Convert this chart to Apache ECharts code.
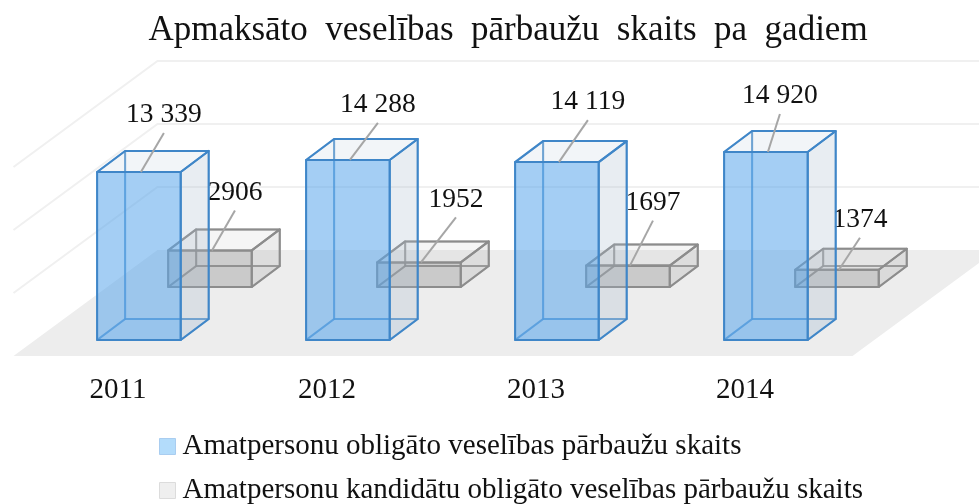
<!DOCTYPE html>
<html>
<head>
<meta charset="utf-8">
<style>
  html, body { margin: 0; padding: 0; background: #fff; }
  #chart { width: 979px; height: 504px; }
</style>
<script src="https://cdn.jsdelivr.net/npm/echarts@6/dist/echarts.min.js"></script>
</head>
<body>
<div id="chart"></div>
<script>
const years = ['2011', '2012', '2013', '2014'];
const officials = [13339, 14288, 14119, 14920];
const candidates = [2906, 1952, 1697, 1374];
const officialLabels = ['13 339', '14 288', '14 119', '14 920'];
const candidateLabels = ['2906', '1952', '1697', '1374'];
const wallTicks = [0, 5000, 10000, 15000];

const chartTitle = 'Apmaksāto  veselības  pārbaužu  skaits  pa  gadiem';
const officialsName = 'Amatpersonu obligāto veselības pārbaužu skaits';
const candidatesName = 'Amatpersonu kandidātu obligāto veselības pārbaužu skaits';

// label position relative to the middle of the bar's top front edge
const officialShift = [[25, -57], [30, -55], [31, -60], [14, -56]];
const candidateShift = [[25, -58], [37, -63], [25, -63], [23, -50]];

const fontName = '"Liberation Serif", serif';
const depthX = 28, depthY = 21;

function poly(points, fill, stroke, lineWidth) {
  return {
    type: 'polygon',
    shape: { points: points },
    style: { fill: fill, stroke: stroke || null, lineWidth: lineWidth || 0, lineJoin: 'round' }
  };
}

// one oblique box, drawn back to front so that the inner edges show through
function barItem(look, labels, shifts) {
  return function (params, api) {
    const i = api.value(0);
    const band = api.size([1, 0])[0];
    const w = band * 0.4;
    const base = api.coord([i, 0]);
    const top = api.coord([i, api.value(1)]);
    const x = base[0] + look.offset * band;
    const y0 = base[1] - look.lift;
    const y1 = top[1] - look.lift;
    const dx = depthX, dy = depthY;

    const back = [[x + dx, y1 - dy], [x + w + dx, y1 - dy], [x + w + dx, y0 - dy], [x + dx, y0 - dy]];
    const floor = [[x, y0], [x + w, y0], [x + w + dx, y0 - dy], [x + dx, y0 - dy]];
    const left = [[x, y1], [x + dx, y1 - dy], [x + dx, y0 - dy], [x, y0]];
    const right = [[x + w, y1], [x + w + dx, y1 - dy], [x + w + dx, y0 - dy], [x + w, y0]];
    const lid = [[x, y1], [x + w, y1], [x + w + dx, y1 - dy], [x + dx, y1 - dy]];
    const front = [[x, y1], [x + w, y1], [x + w, y0], [x, y0]];

    const cx = x + w / 2;
    const lx = cx + shifts[i][0];
    const ly = y1 + shifts[i][1];

    return {
      type: 'group',
      children: [
        poly(back, 'rgba(0,0,0,0)', look.innerEdge, 2),
        poly(floor, look.floorFill, look.innerEdge, 2),
        poly(left, 'rgba(0,0,0,0)', look.innerEdge, 2),
        poly(right, look.sideFill, look.edge, 2),
        poly(lid, look.lidFill, look.edge, 2),
        poly(front, look.frontFill, look.edge, 2),
        {
          type: 'line',
          shape: { x1: cx + 2, y1: y1, x2: lx, y2: ly + 18 },
          style: { stroke: '#a6a6a6', lineWidth: 2 }
        },
        {
          type: 'text',
          style: {
            text: labels[i], x: lx, y: ly, align: 'center', verticalAlign: 'middle',
            fontFamily: fontName, fontSize: 27.5, fill: '#111'
          }
        }
      ]
    };
  };
}

const officialLook = {
  offset: -0.1, lift: 0,
  edge: '#3f86c8', innerEdge: 'rgba(63,134,200,.55)',
  frontFill: 'rgba(90,165,235,.55)', sideFill: 'rgba(165,185,205,.25)',
  lidFill: 'rgba(165,185,205,.15)', floorFill: 'rgba(90,165,235,.06)'
};
const candidateLook = {
  offset: 0.24, lift: 53,
  edge: '#8c8c8c', innerEdge: 'rgba(140,140,140,.6)',
  frontFill: 'rgba(120,120,120,.27)', sideFill: 'rgba(150,150,150,.18)',
  lidFill: 'rgba(170,170,170,.12)', floorFill: 'rgba(150,150,150,.04)'
};

// floor and the pale lines of the walls, placed from the value axis
function wallItem(params, api) {
  const v = api.value(0);
  const p = api.coord([0, v]);
  const g = params.coordSys;
  const backY = p[1] - 90;
  const backX = g.x + 144;
  if (v === 0) {
    return poly([[g.x, p[1] + 16], [g.x + g.width + 3, p[1] + 16],
      [g.x + g.width + 147, backY], [backX, backY]], '#ededed');
  }
  return {
    type: 'polyline',
    shape: { points: [[g.x, backY + 106], [backX, backY], [g.x + g.width + 147, backY]] },
    style: { fill: null, stroke: '#f0f0f0', lineWidth: 2 }
  };
}

const chart = echarts.init(document.getElementById('chart'), null, { renderer: 'canvas' });
chart.setOption({
  animation: false,
  backgroundColor: '#fff',
  title: {
    text: chartTitle,
    left: 503,
    top: 8,
    textAlign: 'center',
    textStyle: { fontFamily: fontName, fontSize: 35, fontWeight: 'normal', color: '#111' }
  },
  legend: {
    orient: 'vertical',
    left: 159,
    top: 432,
    height: 90,
    padding: 0,
    itemWidth: 16,
    itemHeight: 16,
    itemGap: 15,
    selectedMode: false,
    textStyle: { fontFamily: fontName, fontSize: 29, color: '#111', padding: [0, 0, 0, 2] },
    data: [
      { name: officialsName, icon: 'rect', itemStyle: { color: '#b3dcfb', borderColor: '#a9cdf0', borderWidth: 1 } },
      { name: candidatesName, icon: 'rect', itemStyle: { color: '#efefef', borderColor: '#dcdcdc', borderWidth: 1 } }
    ]
  },
  grid: { left: 13.5, width: 836, top: 151, height: 189 },
  xAxis: {
    type: 'category',
    data: years,
    axisLine: { show: false },
    axisTick: { show: false },
    axisLabel: { margin: 36, fontFamily: fontName, fontSize: 29, color: '#111' }
  },
  yAxis: {
    type: 'value',
    min: 0,
    max: 15000,
    interval: 5000,
    show: false
  },
  series: [
    {
      type: 'custom',
      name: 'sienas',
      silent: true,
      clip: false,
      renderItem: wallItem,
      encode: { y: 0 },
      data: wallTicks.map(v => [v])
    },
    {
      type: 'custom',
      name: candidatesName,
      clip: false,
      itemStyle: { color: '#efefef' },
      renderItem: barItem(candidateLook, candidateLabels, candidateShift),
      encode: { x: 0, y: 1 },
      data: candidates.map((v, i) => [i, v])
    },
    {
      type: 'custom',
      name: officialsName,
      clip: false,
      itemStyle: { color: '#b3dcfb' },
      renderItem: barItem(officialLook, officialLabels, officialShift),
      encode: { x: 0, y: 1 },
      data: officials.map((v, i) => [i, v])
    }
  ]
});
</script>
</body>
</html>
